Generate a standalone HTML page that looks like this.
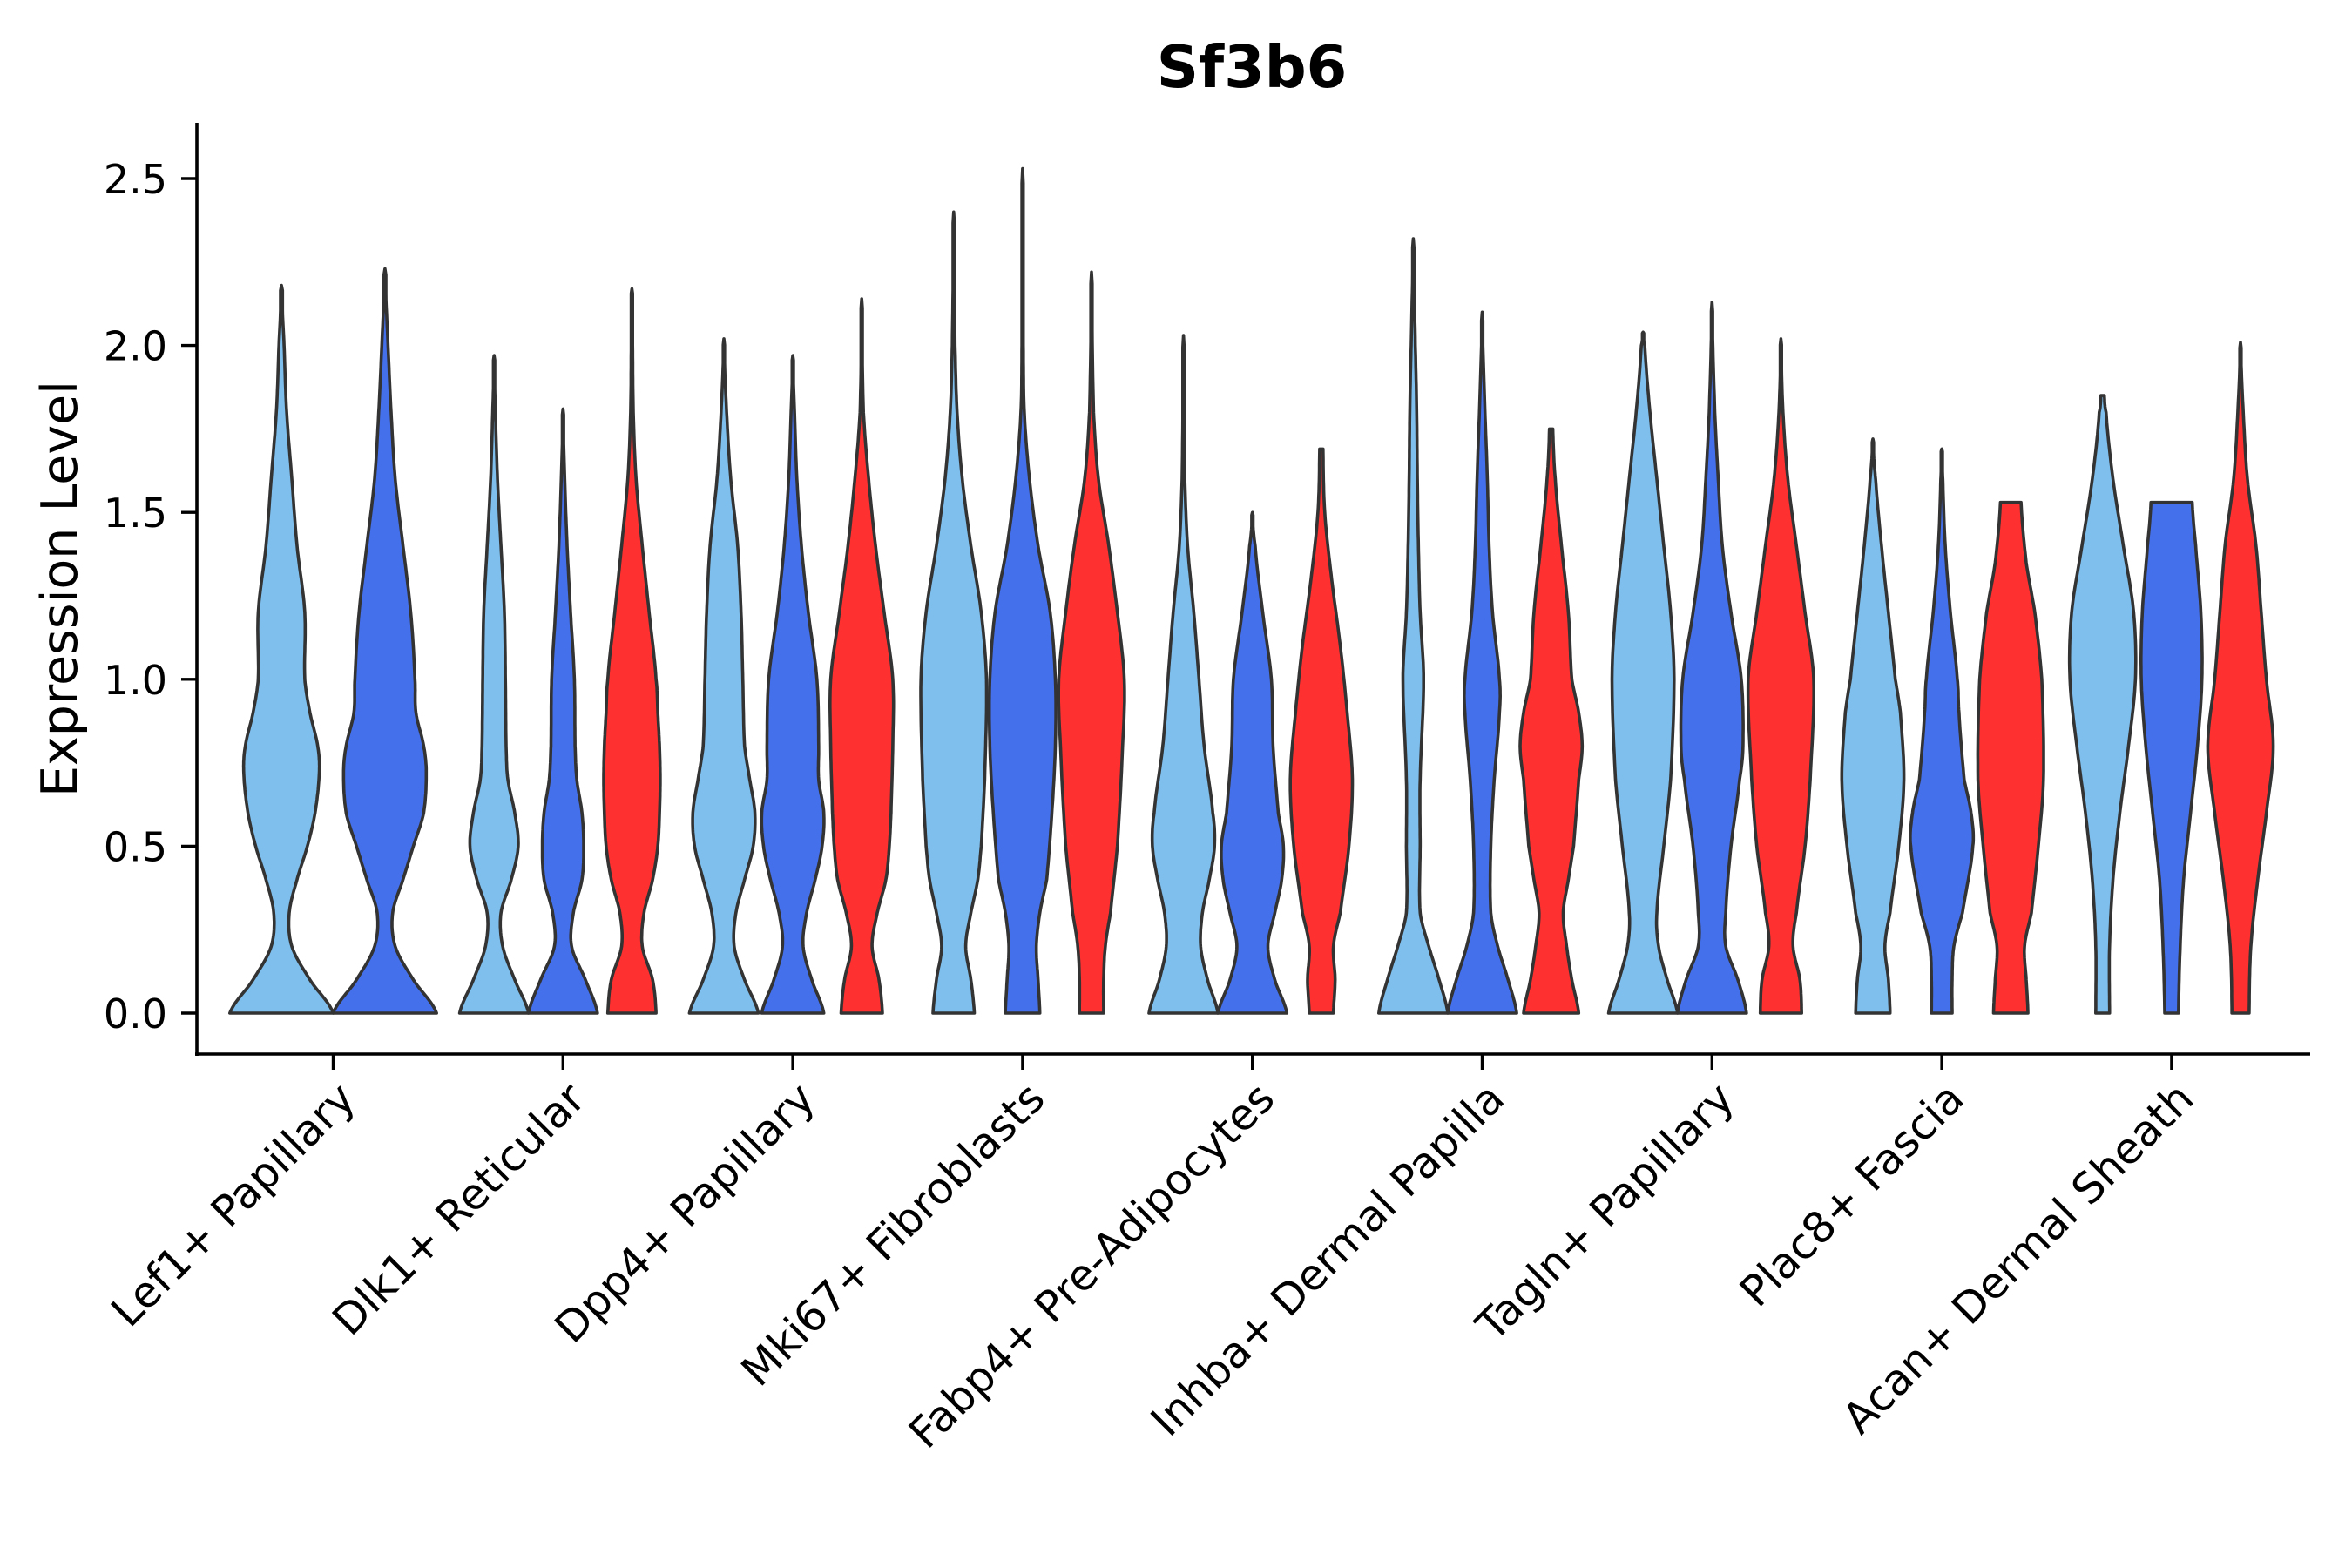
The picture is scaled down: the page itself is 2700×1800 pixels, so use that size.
<!DOCTYPE html>
<html><head><meta charset="utf-8"><style>
html,body{margin:0;padding:0;background:#fff;}
svg{display:block;font-family:"DejaVu Sans","Liberation Sans",sans-serif;}
</style></head><body>
<svg id="chart" width="2700" height="1800" viewBox="0 0 2700 1800" xmlns="http://www.w3.org/2000/svg">
<rect width="2700" height="1800" fill="#fff"/>
<text x="1437" y="100" font-size="67" font-weight="bold" text-anchor="middle" fill="#000">Sf3b6</text>
<text transform="translate(88,676) rotate(-90)" font-size="57" text-anchor="middle" fill="#000">Expression Level</text>
<g id="plot"></g>
</svg>
<script>
const categories = ["Lef1+ Papillary","Dlk1+ Reticular","Dpp4+ Papillary","Mki67+ Fibroblasts","Fabp4+ Pre-Adipocytes","Inhba+ Dermal Papilla","Tagln+ Papillary","Plac8+ Fascia","Acan+ Dermal Sheath"];
const seriesColors = ["#7FBFED","#4570EC","#FF3030"];
const yTicks = [0, 0.5, 1.0, 1.5, 2.0, 2.5];
const yTickLabels = ["0.0","0.5","1.0","1.5","2.0","2.5"];
const violinGroup  = [0,0, 1,1,1, 2,2,2, 3,3,3, 4,4,4, 5,5,5, 6,6,6, 7,7,7, 8,8,8];
const violinSeries = [0,1, 0,1,2, 0,1,2, 0,1,2, 0,1,2, 0,1,2, 0,1,2, 0,1,2, 0,1,2];
const violinMax = [2.18,2.23, 1.97,1.81,2.17, 2.02,1.97,2.14, 2.40,2.53,2.22, 2.03,1.50,1.69, 2.32,2.10,1.75, 2.04,2.13,2.02, 1.72,1.69,1.53, 1.85,1.53,2.01];
const violinTopWidth = [0,0, 0,0,0, 0,0,0, 0,0,0, 0,0,0.05, 0,0,0.05, 0,0,0, 0,0,0.3, 0.05,0.6,0];
const densityY = [
 [0,.1,.2,.3,.4,.5,.6,.72,.8,.9,1.0,1.2,1.4,1.6,1.8,2.0],
 [0,.1,.2,.3,.4,.5,.6,.72,.8,.9,1.0,1.2,1.4,1.6,1.8,2.0],
 [0,.1,.2,.3,.4,.5,.6,.7,.8,1.0,1.2,1.4,1.6,1.8],
 [0,.1,.2,.3,.4,.5,.6,.7,.8,1.0,1.2,1.4,1.6],
 [0,.1,.2,.3,.4,.5,.6,.7,.8,.9,1.0,1.2,1.4,1.6,1.8,2.0],
 [0,.1,.2,.3,.4,.5,.6,.7,.8,1.0,1.2,1.4,1.6,1.8],
 [0,.1,.2,.3,.4,.5,.6,.7,.8,1.0,1.2,1.4,1.6,1.8],
 [0,.1,.2,.3,.4,.5,.6,.8,1.0,1.2,1.4,1.6,1.8],
 [0,.1,.2,.3,.4,.5,.7,1.0,1.2,1.4,1.6,1.8,2.0],
 [0,.1,.2,.3,.4,.6,.8,1.0,1.2,1.4,1.6,1.8,2.0],
 [0,.1,.2,.3,.5,.8,1.0,1.2,1.4,1.6,1.8],
 [0,.1,.2,.3,.4,.5,.6,.8,1.0,1.2,1.4,1.6],
 [0,.1,.2,.3,.4,.5,.6,.8,1.0,1.2,1.4],
 [0,.1,.2,.3,.5,.7,.9,1.1,1.3,1.5],
 [0,.1,.2,.3,.5,.7,1.0,1.2,1.4,1.6,1.8,2.0],
 [0,.1,.2,.3,.5,.7,.9,1.0,1.2,1.4,1.6,1.8],
 [0,.1,.2,.3,.4,.5,.7,.8,.9,1.0,1.2,1.4,1.6],
 [0,.1,.2,.3,.5,.7,1.0,1.2,1.4,1.6,1.8,2.0],
 [0,.1,.2,.3,.5,.7,.8,1.0,1.2,1.4,1.6,1.8],
 [0,.1,.2,.3,.5,.7,1.0,1.2,1.4,1.6,1.8],
 [0,.1,.2,.3,.5,.7,.9,1.0,1.2,1.4,1.6],
 [0,.1,.2,.3,.5,.6,.7,.9,1.0,1.2,1.4,1.6],
 [0,.1,.2,.3,.5,.7,1.0,1.2,1.35],
 [0,.2,.4,.6,.8,1.0,1.2,1.4,1.6,1.8],
 [0,.2,.4,.6,.8,1.0,1.2,1.4],
 [0,.2,.4,.6,.8,1.0,1.2,1.4,1.6,1.8]
];
const densityW = [
 [1,.55,.2,.15,.3,.5,.65,.73,.7,.55,.45,.45,.3,.2,.1,.05],
 [1,.55,.2,.15,.35,.55,.75,.8,.75,.6,.58,.5,.35,.2,.12,.06],
 [1,.6,.25,.2,.5,.7,.6,.4,.35,.33,.3,.2,.1,.04],
 [1,.65,.25,.3,.55,.6,.55,.4,.35,.33,.22,.12,.05],
 [.7,.6,.3,.35,.6,.75,.8,.82,.8,.75,.7,.5,.3,.12,.04,.02],
 [1,.6,.3,.35,.6,.85,.9,.75,.6,.55,.5,.4,.2,.08],
 [.9,.55,.3,.4,.65,.85,.9,.75,.75,.7,.45,.25,.12,.05],
 [.6,.5,.3,.45,.7,.8,.85,.9,.9,.65,.4,.2,.05],
 [.6,.5,.35,.5,.7,.8,.9,.95,.8,.5,.25,.1,.04],
 [.5,.45,.4,.5,.7,.85,.95,.95,.8,.45,.2,.05,.02],
 [.35,.35,.4,.55,.75,.9,.95,.75,.5,.2,.06],
 [1,.7,.5,.55,.75,.9,.85,.6,.45,.3,.12,.04],
 [1,.65,.45,.65,.85,.9,.75,.6,.55,.3,.08],
 [.35,.4,.35,.55,.8,.9,.75,.55,.3,.1],
 [1,.75,.45,.2,.2,.2,.3,.2,.15,.12,.1,.06],
 [1,.75,.45,.25,.25,.35,.5,.5,.3,.2,.15,.08],
 [.8,.6,.45,.35,.5,.65,.8,.9,.8,.6,.5,.3,.12],
 [1,.7,.45,.4,.6,.8,.9,.8,.6,.4,.2,.05],
 [1,.75,.4,.4,.55,.8,.9,.85,.55,.3,.18,.08],
 [.6,.55,.35,.45,.7,.85,.95,.7,.45,.2,.06],
 [.5,.45,.35,.5,.75,.9,.8,.65,.45,.25,.08],
 [.3,.3,.35,.6,.9,.85,.65,.5,.45,.25,.1,.03],
 [.5,.45,.4,.6,.8,.95,.9,.7,.45],
 [.2,.2,.3,.5,.75,.95,.9,.6,.3,.1],
 [.2,.25,.35,.55,.75,.88,.85,.7],
 [.25,.3,.5,.75,.95,.75,.6,.45,.2,.08]
];

const NS = "http://www.w3.org/2000/svg";
const plot = document.getElementById('plot');
const X0 = 226, X1 = 2652, YTOP = 141, YBOT = 1210;
const Y_ZERO = 1163, PX_PER_UNIT = 383.2;
const GROUP_X0 = 382.5, GROUP_STEP = 263.8;
function yScale(v){ return Y_ZERO - v * PX_PER_UNIT; }
function xScale(i){ return GROUP_X0 + i * GROUP_STEP; }

function mk(tag, attrs){ const e = document.createElementNS(NS, tag); for (const k in attrs) e.setAttribute(k, attrs[k]); return e; }

const groupCounts = categories.map((_, g) => violinGroup.filter(v => v === g).length);
const groupIndexSeen = categories.map(() => 0);
violinMax.forEach((mx, i) => {
  const g = violinGroup[i];
  const n = groupCounts[g];
  const k = groupIndexSeen[g]++;
  const dodge = 0.9 * GROUP_STEP / n;
  const cx = xScale(g) + (k - (n - 1) / 2) * dodge;
  const hw = dodge / 2;
  const ys = densityY[i].filter(y => y < mx).concat([mx]);
  const ws = densityW[i].slice(0, ys.length - 1).concat([violinTopWidth[i]]);
  const pts = [];
  for (let s = 0; s < ys.length - 1; s++) {
    const p0 = ws[Math.max(s - 1, 0)], p1 = ws[s], p2 = ws[s + 1], p3 = ws[Math.min(s + 2, ws.length - 1)];
    const steps = 12;
    for (let t = 0; t < steps; t++) {
      const u = t / steps;
      const w = 0.5 * ((2 * p1) + (-p0 + p2) * u + (2 * p0 - 5 * p1 + 4 * p2 - p3) * u * u + (-p0 + 3 * p1 - 3 * p2 + p3) * u * u * u);
      pts.push([ys[s] + (ys[s + 1] - ys[s]) * u, Math.max(w, 0.02)]);
    }
  }
  pts.push([mx, ws[ws.length - 1]]);
  let d = "";
  pts.forEach((p, j) => { d += (j ? "L" : "M") + (cx + p[1] * hw).toFixed(1) + "," + yScale(p[0]).toFixed(1); });
  for (let j = pts.length - 1; j >= 0; j--) d += "L" + (cx - pts[j][1] * hw).toFixed(1) + "," + yScale(pts[j][0]).toFixed(1);
  d += "Z";
  const path = mk('path', {d: d, fill: seriesColors[violinSeries[i]], stroke: "#333333", "stroke-width": 3.6, "stroke-linejoin": "round"});
  
  
  plot.appendChild(path);
});

const yAxis = mk('line', {x1: X0, y1: YTOP, x2: X0, y2: YBOT + 2, stroke: "#000", "stroke-width": 3.6});


plot.appendChild(yAxis);
const xAxis = mk('line', {x1: X0 - 2, y1: YBOT, x2: X1, y2: YBOT, stroke: "#000", "stroke-width": 3.6});


plot.appendChild(xAxis);

yTicks.forEach((v, i) => {
  const y = yScale(v);
  const t = mk('line', {x1: X0 - 18, y1: y, x2: X0, y2: y, stroke: "#000", "stroke-width": 3.4});
  
  
  plot.appendChild(t);
  const lb = mk('text', {x: X0 - 34, y: y + 17, "font-size": 46, "text-anchor": "end", fill: "#000"});
  lb.textContent = yTickLabels[i];
  
  
  plot.appendChild(lb);
});

categories.forEach((c, g) => {
  const x = xScale(g);
  const t = mk('line', {x1: x, y1: YBOT, x2: x, y2: YBOT + 18, stroke: "#000", "stroke-width": 3.4});
  
  
  plot.appendChild(t);
  const lb = mk('text', {transform: "translate(" + (x + 28) + ",1264) rotate(-45)", "font-size": 49, "text-anchor": "end", fill: "#000"});
  lb.textContent = c;
  
  
  plot.appendChild(lb);
});
</script>
</body></html>
